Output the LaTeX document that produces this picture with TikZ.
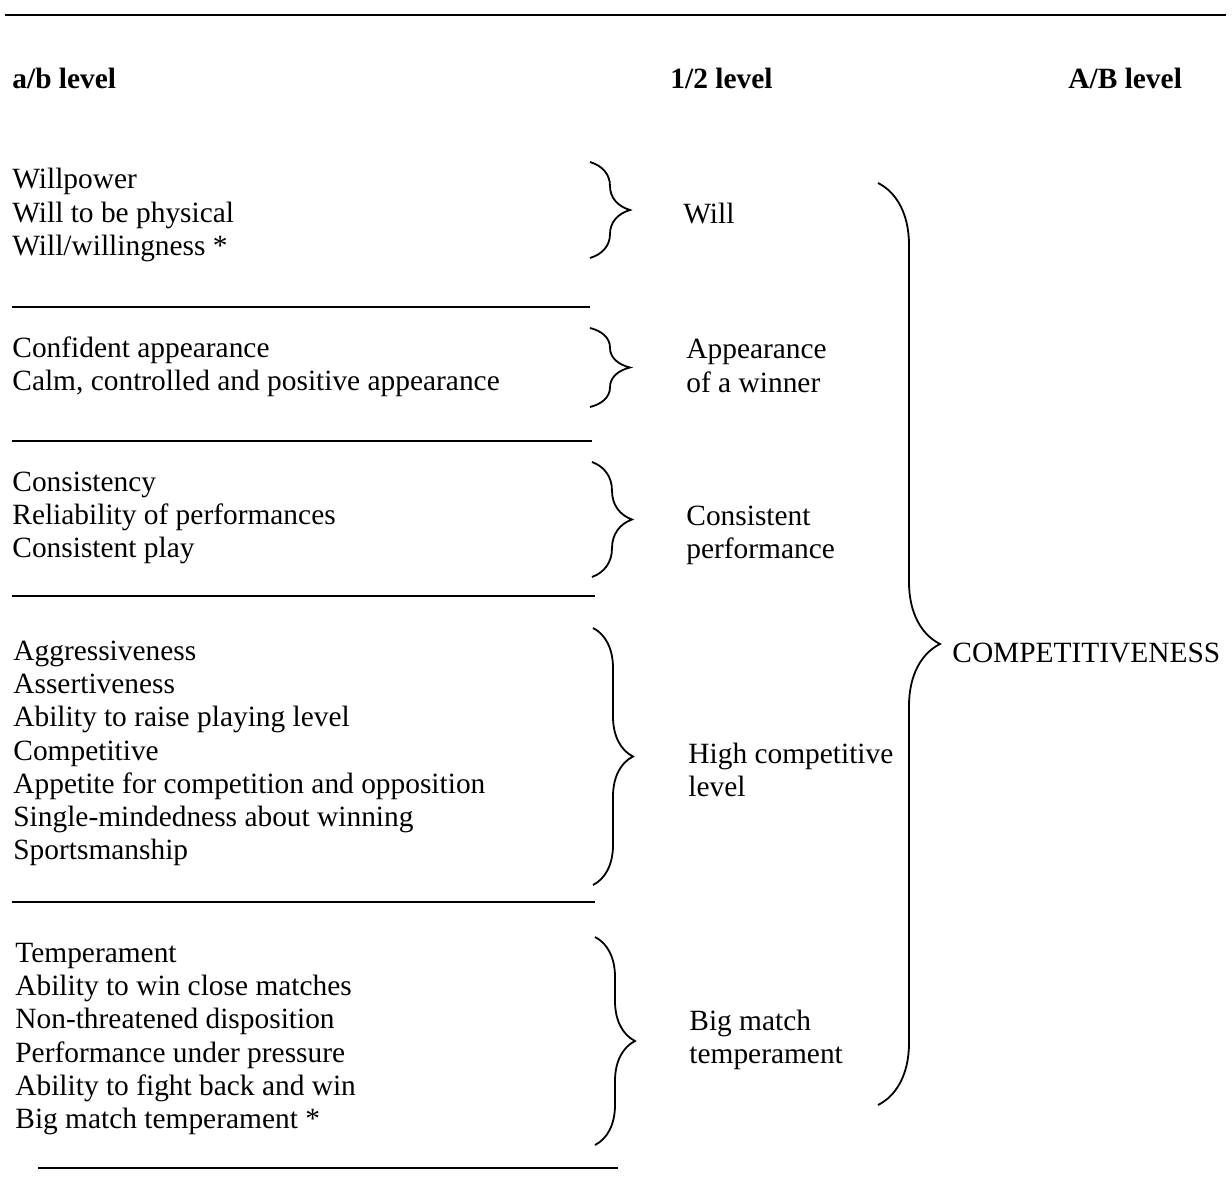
\documentclass[tikz,border=0pt]{standalone}
\usepackage{fontspec}
\setmainfont{Liberation Serif}
\usetikzlibrary{decorations.pathreplacing}

\begin{document}
\begin{tikzpicture}[x=0.5pt, y=-0.5pt,
    every node/.style={inner sep=0pt, font=\fontsize{14.7}{16.6}\selectfont},
    lbl/.style={anchor=west, align=left},
    head/.style={anchor=west, font=\fontsize{14.7}{16.6}\selectfont\bfseries},
    rule/.style={line width=0.8pt},
    curly/.style={decorate, decoration={brace, amplitude=#1}, line width=0.9pt}]
    \useasboundingbox (0,0) rectangle (1232,1204);

    % Top rule and column headings
    \draw[rule] (5,15) -- (1226,15);
    \node[head] (HeadAB) at (12,78) {a/b level};
    \node[head] (HeadMid) at (670,78) {1/2 level};
    \node[head] (HeadTop) at (1068,78) {A/B level};

    % Draw the a/b level groups
    \node[lbl] (Will) at (12,215) {Willpower\\Will to be physical\\Will/willingness *};
    \node[lbl] (Appear) at (12,366.5) {Confident appearance\\Calm, controlled and positive appearance};
    \node[lbl] (Consist) at (12,518) {Consistency\\Reliability of performances\\Consistent play};
    \node[lbl] (HighComp) at (13,753.5) {Aggressiveness\\Assertiveness\\Ability to raise playing level\\Competitive\\Appetite for competition and opposition\\Single-mindedness about winning\\Sportsmanship};
    \node[lbl] (BigMatch) at (15,1039) {Temperament\\Ability to win close matches\\Non-threatened disposition\\Performance under pressure\\Ability to fight back and win\\Big match temperament *};

    % Draw the separating rules
    \draw[rule] (12,307) -- (590,307);
    \draw[rule] (12,441) -- (592,441);
    \draw[rule] (12,596) -- (595,596);
    \draw[rule] (12,902) -- (595,902);
    \draw[rule] (38,1168) -- (618,1168);

    % Draw the braces to the 1/2 level
    \draw[curly=20pt] (590,162) -- (590,258);
    \draw[curly=20pt] (590,328) -- (590,407);
    \draw[curly=20pt] (592,462) -- (592,577);
    \draw[curly=20pt] (593,628) -- (593,885);
    \draw[curly=20pt] (595,937) -- (595,1145);

    % Draw the 1/2 level labels
    \node[lbl] (MidWill) at (683,214) {Will};
    \node[lbl] (MidAppear) at (686,366) {Appearance\\of a winner};
    \node[lbl] (MidConsist) at (686,535) {Consistent\\performance};
    \node[lbl] (MidHighComp) at (688,770) {High competitive\\level};
    \node[lbl] (MidBigMatch) at (689,1040) {Big match\\temperament};

    % Draw the brace to the A/B level
    \draw[curly=31pt] (878,183) -- (878,1105);
    \node[lbl] (Compet) at (952,653) {COMPETITIVENESS};

\end{tikzpicture}
\end{document}
